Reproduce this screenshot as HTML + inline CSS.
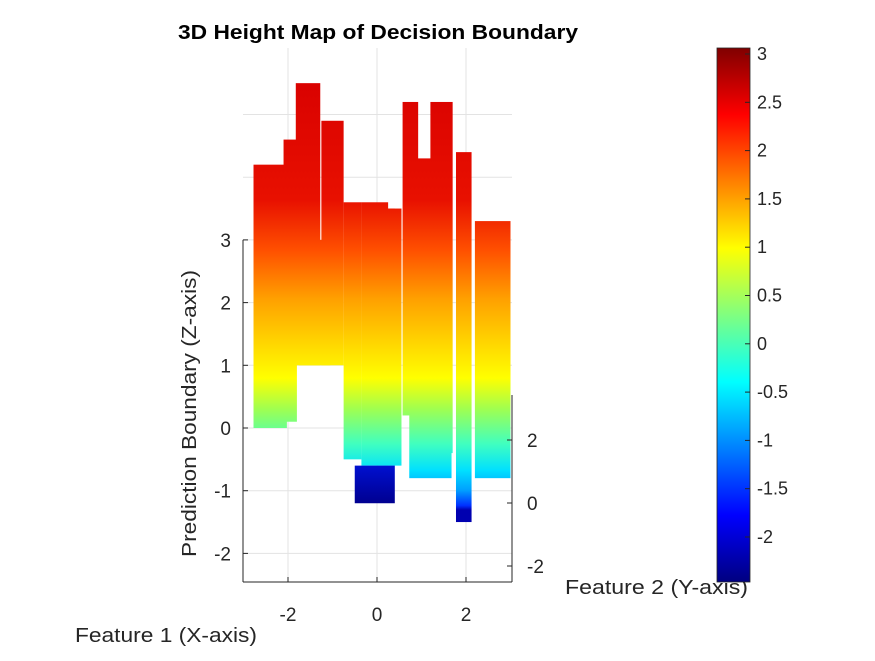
<!DOCTYPE html>
<html><head><meta charset="utf-8"><style>
body{margin:0;background:#fff;}
svg text{font-family:"Liberation Sans",sans-serif;fill:#262626;}
</style></head><body>
<svg id="chart" width="875" height="656" viewBox="0 0 875 656" xmlns="http://www.w3.org/2000/svg">
<defs>
<linearGradient id="surfGrad" gradientUnits="userSpaceOnUse" x1="0" y1="70" x2="0" y2="510">
<stop offset="0" stop-color="#d80000"/>
<stop offset="0.295" stop-color="#e81000"/>
<stop offset="0.41" stop-color="#ff5000"/>
<stop offset="0.52" stop-color="#ffa000"/>
<stop offset="0.64" stop-color="#ffe000"/>
<stop offset="0.70" stop-color="#ffff00"/>
<stop offset="0.77" stop-color="#a0ff50"/>
<stop offset="0.85" stop-color="#40ffc0"/>
<stop offset="0.91" stop-color="#00e0ff"/>
<stop offset="0.955" stop-color="#00a0ff"/>
<stop offset="0.99" stop-color="#0030ff"/>
<stop offset="1" stop-color="#0000b0"/>
</linearGradient>
<linearGradient id="blueGrad" x1="0" y1="0" x2="0" y2="1">
<stop offset="0" stop-color="#0010d0"/>
<stop offset="1" stop-color="#000090"/>
</linearGradient>
<linearGradient id="cbGrad" x1="0" y1="0" x2="0" y2="1">
<stop offset="0" stop-color="#800000"/>
<stop offset="0.125" stop-color="#ff0000"/>
<stop offset="0.375" stop-color="#ffff00"/>
<stop offset="0.5" stop-color="#80ff80"/>
<stop offset="0.625" stop-color="#00ffff"/>
<stop offset="0.875" stop-color="#0000ff"/>
<stop offset="1" stop-color="#000080"/>
</linearGradient>
</defs>
<g id="grid"></g>
<g id="surface"></g>
<g id="axes"></g>
<text x="178" y="39" textLength="400" lengthAdjust="spacingAndGlyphs" font-size="20" font-weight="bold" style="fill:#000">3D Height Map of Decision Boundary</text>
<text transform="translate(196,557) rotate(-90)" textLength="287" lengthAdjust="spacingAndGlyphs" font-size="20">Prediction Boundary (Z-axis)</text>
<text x="75" y="642" textLength="182" lengthAdjust="spacingAndGlyphs" font-size="20">Feature 1 (X-axis)</text>
<text x="565" y="594" textLength="183" lengthAdjust="spacingAndGlyphs" font-size="20">Feature 2 (Y-axis)</text>
<rect x="717" y="48" width="33" height="534" fill="url(#cbGrad)" stroke="#262626" stroke-width="0.8"/>
<g id="cbticks"></g>
</svg>
<script>
// Column data: feature-1 center, width, top z, bottom z
const colX = [-2.4, -1.95, -1.55, -1.0, -0.55, -0.05, 0.35, 0.75, 1.1, 1.45, 1.95, 2.6];
const colW = [0.75, 0.3, 0.55, 0.5, 0.4, 0.6, 0.4, 0.35, 0.45, 0.5, 0.35, 0.8];
const colTop = [4.2, 4.6, 5.5, 4.9, 3.6, 3.6, 3.5, 5.2, 4.3, 5.2, 4.4, 3.3];
const colBot = [0.0, 0.1, 1.0, 1.0, -0.5, -0.6, -0.6, 0.2, -0.7, -0.4, -1.5, -0.8];
// extra blocks (front panels)
const blkX = [-1.4, -0.2, 1.2, 0.2];
const blkW = [0.7, 0.3, 0.95, 0.4];
const blkTop = [3.0, 2.3, 4.2, 3.5];
const blkBot = [1.0, 1.1, -0.8, -0.6];
// low block (dark blue)
const lowX = [-0.05];
const lowW = [0.9];
const lowTop = [-0.6];
const lowBot = [-1.2];
const xTicks = [-2, 0, 2];
const zTicks = [-2, -1, 0, 1, 2, 3];
const yTicks = [2, 0, -2];
const cbTicks = [3, 2.5, 2, 1.5, 1, 0.5, 0, -0.5, -1, -1.5, -2];

const NS = 'http://www.w3.org/2000/svg';
const X = v => 377 + v * 44.5;
const Z = v => 428 - v * 62.7;
const YF2 = v => 503 - v * 31.5;
const CB = v => 54 + (3 - v) * 96.6;
function mk(tag, attrs, parent) {
  const e = document.createElementNS(NS, tag);
  for (const k in attrs) e.setAttribute(k, attrs[k]);
  parent.appendChild(e);
  return e;
}
const grid = document.getElementById('grid');
xTicks.forEach(t => {
  const l = mk('line', {x1: X(t), x2: X(t), y1: 48, y2: 582, stroke: '#e3e3e3', 'stroke-width': 1}, grid);
  
  
});
[-2, -1, 0, 1, 2, 3, 4, 5].forEach(t => {
  const l = mk('line', {x1: 243, x2: 512, y1: Z(t), y2: Z(t), stroke: '#e3e3e3', 'stroke-width': 1}, grid);
  
  
});
const surf = document.getElementById('surface');
function drawCols(xs, ws, tops, bots, name, fill) {
  xs.forEach((c, i) => {
    const x0 = Math.max(243, X(c - ws[i] / 2)), x1 = Math.min(512, X(c + ws[i] / 2));
    const r = mk('rect', {x: x0, y: Z(tops[i]), width: x1 - x0, height: Z(bots[i]) - Z(tops[i]), fill: fill}, surf);
    
    
  });
}
drawCols(colX, colW, colTop, colBot, 'surface-column', 'url(#surfGrad)');
drawCols(blkX, blkW, blkTop, blkBot, 'surface-panel', 'url(#surfGrad)');
drawCols(lowX, lowW, lowTop, lowBot, 'surface-low-block', 'url(#blueGrad)');
const ax = document.getElementById('axes');
mk('line', {x1: 243, x2: 243, y1: Z(3), y2: 582, stroke: '#262626'}, ax);
mk('line', {x1: 243, x2: 512, y1: 582, y2: 582, stroke: '#262626'}, ax);
mk('line', {x1: 512, x2: 512, y1: 395, y2: 582, stroke: '#262626'}, ax);
xTicks.forEach(t => {
  mk('line', {x1: X(t), x2: X(t), y1: 582, y2: 577, stroke: '#262626'}, ax);
  const tx = mk('text', {x: X(t), y: 621, 'text-anchor': 'middle', 'font-size': 19}, ax);
  tx.textContent = t;
  
  
});
zTicks.forEach(t => {
  mk('line', {x1: 243, x2: 248, y1: Z(t), y2: Z(t), stroke: '#262626'}, ax);
  const tx = mk('text', {x: 231, y: Z(t) + 7, 'text-anchor': 'end', 'font-size': 19}, ax);
  tx.textContent = t;
  
  
});
yTicks.forEach(t => {
  mk('line', {x1: 512, x2: 507, y1: YF2(t), y2: YF2(t), stroke: '#262626'}, ax);
  const tx = mk('text', {x: 527, y: YF2(t) + 7, 'text-anchor': 'start', 'font-size': 19}, ax);
  tx.textContent = t;
  
  
});
const cbt = document.getElementById('cbticks');
cbTicks.forEach(t => {
  mk('line', {x1: 745, x2: 750, y1: CB(t), y2: CB(t), stroke: '#262626'}, cbt);
  const tx = mk('text', {x: 757, y: CB(t) + 6, 'font-size': 18}, cbt);
  tx.textContent = t;
  
  
});
</script>
</body></html>
